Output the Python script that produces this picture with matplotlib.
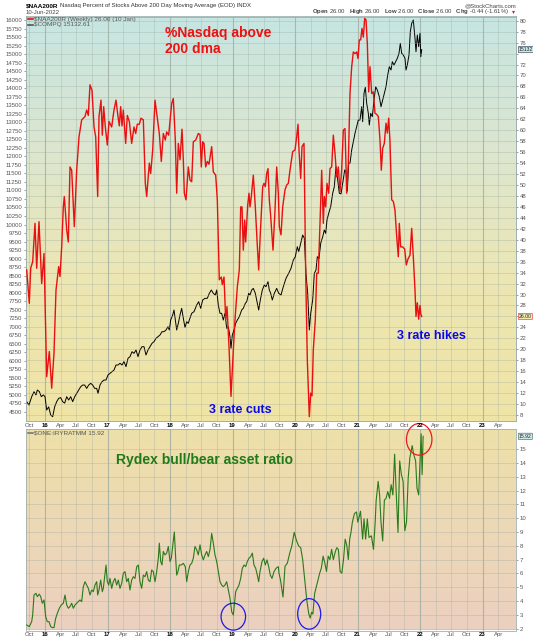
import numpy as np
import matplotlib
matplotlib.use('Agg')
import matplotlib.pyplot as plt
from matplotlib.patches import Ellipse
from matplotlib.lines import Line2D
from matplotlib.colors import LinearSegmentedColormap
import matplotlib.transforms as mtrans

plt.rcParams['mathtext.fontset'] = 'custom'
plt.rcParams['mathtext.rm'] = 'Liberation Sans'
plt.rcParams['mathtext.bf'] = 'Liberation Sans:bold'

# ---------------- data (decimal years) ----------------
naa_dates = [2015.707, 2015.749, 2015.771, 2015.803, 2015.84, 2015.867, 2015.904, 2015.947, 2015.984,
             2016.027, 2016.069, 2016.107, 2016.144, 2016.176, 2016.219, 2016.24, 2016.267, 2016.293,
             2016.309, 2016.347, 2016.373, 2016.40, 2016.427, 2016.469, 2016.507, 2016.544, 2016.587,
             2016.64, 2016.667, 2016.693, 2016.72, 2016.752, 2016.784, 2016.811, 2016.843, 2016.864,
             2016.896, 2016.917, 2016.939, 2016.965, 2016.997, 2017.024, 2017.067, 2017.104, 2017.136,
             2017.168, 2017.189, 2017.211, 2017.232, 2017.253, 2017.291, 2017.317, 2017.349, 2017.387,
             2017.424, 2017.451, 2017.477, 2017.509, 2017.536, 2017.573, 2017.605, 2017.627, 2017.669,
             2017.691, 2017.723, 2017.76, 2017.787, 2017.829, 2017.861, 2017.893, 2017.925, 2017.947,
             2017.979, 2018.0, 2018.027, 2018.053, 2018.085, 2018.107, 2018.133, 2018.16, 2018.192,
             2018.213, 2018.229, 2018.256, 2018.293, 2018.32, 2018.347, 2018.373, 2018.411, 2018.453,
             2018.48, 2018.501, 2018.523, 2018.544, 2018.571, 2018.597, 2018.624, 2018.667, 2018.693,
             2018.731, 2018.757, 2018.789, 2018.821, 2018.837, 2018.864, 2018.891, 2018.912, 2018.944,
             2018.976, 2019.013, 2019.04, 2019.077, 2019.109, 2019.131, 2019.152, 2019.173, 2019.195,
             2019.211, 2019.243, 2019.264, 2019.28, 2019.301, 2019.333, 2019.365, 2019.392, 2019.419,
             2019.445, 2019.483, 2019.504, 2019.525, 2019.547, 2019.568, 2019.589, 2019.611, 2019.648,
             2019.68, 2019.707, 2019.733, 2019.749, 2019.776, 2019.803, 2019.84, 2019.867, 2019.893,
             2019.92, 2019.963, 2020.0, 2020.027, 2020.048, 2020.064, 2020.091, 2020.112, 2020.144,
             2020.171, 2020.197, 2020.229, 2020.251, 2020.272, 2020.293, 2020.325, 2020.347, 2020.373,
             2020.40, 2020.427, 2020.453, 2020.469, 2020.491, 2020.512, 2020.539, 2020.56, 2020.587,
             2020.613, 2020.64, 2020.667, 2020.693, 2020.72, 2020.747, 2020.773, 2020.80, 2020.827,
             2020.853, 2020.88, 2020.907, 2020.933, 2020.96, 2020.987, 2021.008, 2021.029, 2021.051,
             2021.072, 2021.093, 2021.115, 2021.136, 2021.157, 2021.179, 2021.20, 2021.227, 2021.253,
             2021.28, 2021.307, 2021.333, 2021.36, 2021.381, 2021.403, 2021.429, 2021.456, 2021.477,
             2021.499, 2021.52, 2021.547, 2021.573, 2021.60, 2021.627, 2021.653, 2021.669, 2021.691,
             2021.723, 2021.755, 2021.781, 2021.808, 2021.84, 2021.867, 2021.893, 2021.92, 2021.936,
             2021.957, 2021.979, 2022.0, 2022.013, 2022.027]
naa_values = [34.5, 28.4, 34.8, 36.0, 43.0, 34.8, 43.3, 32.0, 37.5,
              15.0, 19.6, 12.9, 19.3, 30.8, 35.1, 33.3, 38.7, 46.0,
              47.9, 41.8, 39.6, 53.3, 52.7, 42.4, 52.7, 58.8, 61.9,
              62.5, 63.7, 62.7, 68.3, 67.3, 60.6, 58.8, 47.9, 62.5,
              65.5, 59.1, 64.3, 60.6, 57.3, 61.6, 60.6, 63.7, 65.5,
              62.5, 60.8, 64.3, 60.8, 63.7, 57.6, 62.7, 61.6, 57.6,
              60.6, 59.4, 61.1, 61.1, 62.2, 61.9, 50.3, 47.9, 54.0,
              52.1, 56.4, 65.5, 63.1, 59.4, 54.3, 59.4, 58.2, 59.7,
              59.1, 61.6, 64.9, 65.8, 58.2, 48.5, 57.6, 54.6, 60.2,
              54.6, 48.5, 47.3, 53.3, 50.9, 50.6, 57.9, 58.2, 59.4,
              59.2, 53.3, 57.9, 57.6, 53.3, 54.3, 53.8, 57.0, 52.4,
              51.8, 47.3, 32.7, 33.2, 31.8, 33.2, 25.4, 27.8, 20.5,
              11.4, 19.9, 25.4, 31.4, 34.5, 46.0, 46.0, 38.1, 43.6,
              39.6, 46.3, 48.5, 46.0, 47.9, 51.8, 46.0, 40.0, 34.5,
              41.2, 49.7, 50.3, 49.7, 52.1, 53.0, 47.3, 44.3, 38.1,
              45.4, 53.3, 48.5, 42.4, 40.9, 46.0, 49.1, 50.0, 50.3,
              52.7, 56.1, 56.4, 58.8, 61.1, 56.4, 51.2, 57.0, 57.6,
              33.9, 18.1, 7.7, 12.0, 11.5, 19.9, 25.4, 33.9, 33.9,
              43.0, 52.7, 43.0, 47.9, 46.0, 50.3, 48.5, 53.0, 53.3,
              59.1, 55.8, 51.5, 53.3, 48.8, 52.8, 60.0, 60.3, 48.5,
              54.0, 66.7, 71.6, 74.3, 74.0, 74.3, 73.1, 76.5, 76.5,
              78.6, 77.0, 80.4, 80.2, 75.9, 67.0, 71.6, 66.7, 67.0,
              63.1, 62.9, 62.5, 58.2, 52.7, 56.7, 57.6, 61.3, 59.5,
              62.2, 57.9, 47.3, 47.0, 45.4, 40.6, 36.9, 43.0, 38.7,
              38.7, 38.3, 35.4, 36.5, 37.2, 42.1, 36.9, 30.8, 26.0,
              28.5, 25.5, 28.0, 26.4, 26.0]

compq_dates = [2015.707, 2015.744, 2015.787, 2015.824, 2015.856, 2015.877, 2015.909, 2015.941, 2015.973,
               2016.0, 2016.027, 2016.059, 2016.091, 2016.123, 2016.155, 2016.187, 2016.219, 2016.251,
               2016.283, 2016.315, 2016.347, 2016.379, 2016.411, 2016.443, 2016.475, 2016.507, 2016.539,
               2016.571, 2016.603, 2016.635, 2016.667, 2016.699, 2016.731, 2016.763, 2016.795, 2016.827,
               2016.848, 2016.88, 2016.912, 2016.944, 2016.976, 2017.008, 2017.04, 2017.072, 2017.104,
               2017.136, 2017.168, 2017.20, 2017.232, 2017.264, 2017.296, 2017.328, 2017.36, 2017.392,
               2017.424, 2017.456, 2017.488, 2017.52, 2017.552, 2017.584, 2017.616, 2017.648, 2017.68,
               2017.712, 2017.744, 2017.776, 2017.808, 2017.84, 2017.872, 2017.904, 2017.936, 2017.968,
               2017.989, 2018.011, 2018.043, 2018.064, 2018.085, 2018.107, 2018.133, 2018.16, 2018.187,
               2018.213, 2018.24, 2018.267, 2018.293, 2018.309, 2018.347, 2018.384, 2018.427, 2018.459,
               2018.491, 2018.523, 2018.56, 2018.597, 2018.629, 2018.661, 2018.693, 2018.725, 2018.747,
               2018.773, 2018.80, 2018.827, 2018.853, 2018.88, 2018.907, 2018.933, 2018.96, 2018.976,
               2018.997, 2019.024, 2019.051, 2019.077, 2019.109, 2019.147, 2019.173, 2019.205, 2019.227,
               2019.259, 2019.28, 2019.307, 2019.333, 2019.365, 2019.392, 2019.419, 2019.445, 2019.477,
               2019.509, 2019.536, 2019.568, 2019.589, 2019.611, 2019.637, 2019.669, 2019.707, 2019.739,
               2019.776, 2019.813, 2019.856, 2019.899, 2019.936, 2019.973, 2020.005, 2020.037, 2020.059,
               2020.091, 2020.123, 2020.149, 2020.176, 2020.203, 2020.229, 2020.251, 2020.283, 2020.309,
               2020.336, 2020.357, 2020.384, 2020.411, 2020.443, 2020.469, 2020.491, 2020.512, 2020.539,
               2020.571, 2020.603, 2020.629, 2020.656, 2020.677, 2020.709, 2020.736, 2020.763, 2020.795,
               2020.816, 2020.837, 2020.859, 2020.88, 2020.907, 2020.933, 2020.96, 2020.987, 2021.013,
               2021.04, 2021.067, 2021.083, 2021.104, 2021.125, 2021.147, 2021.173, 2021.189, 2021.211,
               2021.237, 2021.264, 2021.291, 2021.317, 2021.349, 2021.376, 2021.403, 2021.429, 2021.456,
               2021.483, 2021.509, 2021.536, 2021.557, 2021.584, 2021.611, 2021.637, 2021.664, 2021.685,
               2021.707, 2021.733, 2021.76, 2021.776, 2021.797, 2021.824, 2021.845, 2021.867, 2021.893,
               2021.92, 2021.936, 2021.957, 2021.979, 2022.0, 2022.013, 2022.027]
compq_values = [4801, 4704, 4948, 5094, 5000, 5143, 5100, 4948, 5000,
                4948, 4557, 4650, 4410, 4361, 4654, 4802, 4900, 4920,
                4802, 4760, 4948, 4850, 4948, 4802, 4948, 5046, 5143,
                5241, 5290, 5290, 5192, 5290, 5340, 5290, 5192, 5192,
                5046, 5290, 5388, 5437, 5437, 5584, 5633, 5681, 5730,
                5878, 5878, 5927, 5878, 5976, 5830, 6074, 6123, 6268,
                6220, 6318, 6123, 6318, 6415, 6415, 6171, 6318, 6415,
                6514, 6563, 6661, 6710, 6758, 6855, 6855, 6905, 7002,
                6905, 7198, 7345, 7491, 7198, 6905, 7100, 7345, 7541,
                7250, 6980, 7148, 7100, 7198, 7394, 7443, 7638, 7735,
                7541, 7785, 7834, 7834, 7981, 8078, 7981, 7932, 8078,
                7638, 7394, 7394, 7198, 7394, 6954, 7002, 6709, 6368,
                6758, 6905, 7100, 7198, 7295, 7492, 7541, 7687, 7735,
                7981, 7932, 8078, 8127, 7981, 7735, 7491, 7785, 8078,
                8225, 8176, 8322, 8078, 7981, 7785, 7981, 8127, 7981,
                7932, 8176, 8421, 8568, 8714, 8958, 9055, 9349, 9200,
                9447, 9692, 9600, 8568, 7981, 6905, 7394, 7785, 8568,
                8665, 9055, 9000, 9447, 9642, 9839, 9740, 10132, 10328,
                10524, 10915, 11109, 11696, 11400, 10915, 10900, 11207, 11600,
                11550, 10980, 11795, 11800, 12186, 12430, 12676, 12870, 13066,
                13066, 13456, 13016, 13849, 14025, 13556, 13263, 12919, 13263,
                13163, 13653, 14043, 13946, 13750, 13456, 13653, 13849, 14043,
                14386, 14630, 14533, 14777, 14680, 14777, 14875, 15023, 15316,
                15023, 14973, 14875, 14533, 14680, 14973, 15657, 15903, 16000,
                15463, 15070, 15560, 15217, 15610, 14923, 15132.61]

rydex_dates = [2015.707, 2015.749, 2015.787, 2015.803, 2015.824, 2015.856, 2015.877, 2015.909, 2015.931,
               2015.957, 2015.984, 2016.011, 2016.037, 2016.064, 2016.091, 2016.117, 2016.144, 2016.171,
               2016.197, 2016.229, 2016.261, 2016.293, 2016.32, 2016.347, 2016.373, 2016.40, 2016.427,
               2016.453, 2016.48, 2016.507, 2016.533, 2016.56, 2016.587, 2016.613, 2016.64, 2016.667,
               2016.693, 2016.72, 2016.747, 2016.773, 2016.80, 2016.827, 2016.843, 2016.864, 2016.891,
               2016.917, 2016.933, 2016.955, 2016.976, 2016.997, 2017.019, 2017.04, 2017.067, 2017.093,
               2017.12, 2017.147, 2017.173, 2017.20, 2017.227, 2017.253, 2017.28, 2017.307, 2017.333,
               2017.36, 2017.387, 2017.413, 2017.44, 2017.467, 2017.493, 2017.52, 2017.547, 2017.573,
               2017.60, 2017.627, 2017.653, 2017.68, 2017.707, 2017.733, 2017.76, 2017.787, 2017.813,
               2017.829, 2017.851, 2017.872, 2017.893, 2017.92, 2017.947, 2017.973, 2018.0, 2018.021,
               2018.043, 2018.069, 2018.091, 2018.107, 2018.128, 2018.149, 2018.181, 2018.213, 2018.245,
               2018.267, 2018.293, 2018.32, 2018.347, 2018.373, 2018.40, 2018.427, 2018.453, 2018.48,
               2018.507, 2018.533, 2018.56, 2018.587, 2018.613, 2018.64, 2018.667, 2018.693, 2018.72,
               2018.747, 2018.773, 2018.80, 2018.827, 2018.853, 2018.88, 2018.907, 2018.933, 2018.96,
               2018.987, 2019.013, 2019.029, 2019.051, 2019.077, 2019.104, 2019.131, 2019.157, 2019.184,
               2019.211, 2019.237, 2019.264, 2019.291, 2019.317, 2019.344, 2019.371, 2019.397, 2019.419,
               2019.44, 2019.472, 2019.499, 2019.525, 2019.552, 2019.579, 2019.605, 2019.632, 2019.664,
               2019.696, 2019.733, 2019.744, 2019.768, 2019.808, 2019.84, 2019.878, 2019.917, 2019.949,
               2019.987, 2020.026, 2020.058, 2020.091, 2020.123, 2020.157, 2020.189, 2020.221, 2020.243,
               2020.266, 2020.286, 2020.314, 2020.341, 2020.368, 2020.395, 2020.422, 2020.45, 2020.477,
               2020.504, 2020.531, 2020.558, 2020.586, 2020.613, 2020.64, 2020.667, 2020.694, 2020.722,
               2020.749, 2020.776, 2020.803, 2020.83, 2020.853, 2020.875, 2020.896, 2020.918, 2020.95,
               2020.984, 2021.005, 2021.027, 2021.048, 2021.082, 2021.104, 2021.13, 2021.157, 2021.184,
               2021.222, 2021.256, 2021.283, 2021.299, 2021.331, 2021.354, 2021.376, 2021.403, 2021.43,
               2021.456, 2021.485, 2021.512, 2021.539, 2021.566, 2021.594, 2021.621, 2021.648, 2021.675,
               2021.702, 2021.73, 2021.757, 2021.784, 2021.811, 2021.838, 2021.854, 2021.875, 2021.898,
               2021.93, 2021.952, 2021.979, 2022.002, 2022.018, 2022.034, 2022.05]
rydex_values = [2.27, 2.15, 2.51, 3.0, 4.44, 4.56, 4.32, 4.5, 4.32,
                3.84, 4.08, 2.87, 2.51, 2.51, 2.15, 2.08, 2.08, 2.75,
                3.11, 3.48, 3.72, 3.84, 4.44, 3.72, 3.48, 3.6, 3.84,
                3.48, 3.72, 3.84, 3.96, 4.08, 3.96, 5.04, 5.40, 5.16,
                4.92, 4.44, 4.80, 4.68, 5.16, 5.40, 4.44, 4.80, 5.52,
                4.68, 4.92, 5.76, 6.6, 5.40, 5.16, 5.64, 4.92, 5.40,
                5.64, 5.16, 5.52, 4.92, 5.28, 6.01, 6.13, 5.40, 5.64,
                4.80, 5.52, 5.76, 5.64, 6.49, 6.61, 5.40, 4.92, 5.88,
                5.76, 6.13, 5.52, 5.40, 6.25, 6.13, 5.40, 6.13, 7.1,
                8.19, 6.86, 6.61, 7.59, 7.34, 7.47, 7.95, 6.86, 7.1,
                7.95, 9.0, 7.1, 5.88, 6.13, 6.61, 6.61, 6.73, 6.49,
                5.40, 6.13, 6.61, 6.73, 7.1, 7.95, 7.71, 7.34, 8.07,
                7.34, 6.98, 7.34, 7.59, 7.22, 7.71, 8.90, 8.19, 7.34,
                6.86, 6.13, 5.40, 5.16, 5.04, 5.16, 5.40, 4.80, 4.2,
                3.23, 2.99, 3.72, 4.68, 4.92, 5.16, 5.64, 6.37, 6.61,
                6.49, 6.86, 7.1, 7.22, 7.47, 6.61, 6.37, 5.88, 5.40,
                6.13, 6.86, 7.1, 6.61, 6.98, 6.49, 5.88, 5.64, 6.13,
                6.37, 6.49, 6.02, 5.52, 4.29, 6.51, 6.75, 7.49, 7.99,
                8.97, 8.35, 7.99, 7.86, 7.0, 5.52, 4.05, 3.06, 2.77,
                3.19, 3.06, 4.54, 5.03, 5.52, 6.02, 6.39, 7.25, 6.75,
                6.14, 7.25, 7.0, 7.74, 7.0, 7.49, 7.86, 7.74, 6.14,
                6.02, 7.0, 8.48, 7.99, 7.0, 8.48, 8.97, 9.71, 10.32,
                10.45, 9.71, 10.08, 10.5, 8.48, 9.95, 8.48, 9.95, 8.6,
                8.72, 7.74, 9.71, 11.3, 12.66, 11.68, 9.71, 8.35, 11.3,
                11.43, 11.92, 11.43, 12.42, 11.68, 14.63, 11.68, 8.97, 14.14,
                13.15, 12.66, 9.09, 9.71, 12.9, 14.38, 14.75, 15.25, 14.63,
                14.14, 12.17, 11.68, 14.38, 16.1, 13.15, 15.92]

month_names = {3: 'Apr', 6: 'Jul', 9: 'Oct'}
tick_start, tick_end = 2015.75, 2023.25

# ---------------- figure ----------------
W, H = 533, 640
fig = plt.figure(figsize=(W / 100, H / 100), dpi=100)
fig.patch.set_facecolor('white')
FONT = 'Liberation Sans'

def px_axes(left, top, right, bottom):
    return fig.add_axes([left / W, 1 - bottom / H, (right - left) / W, (bottom - top) / H])

ax = px_axes(26, 16.5, 516, 421)
ax2 = ax.twinx()
axb = px_axes(26, 429, 516, 630.5)

def gradient(a, colors):
    cmap = LinearSegmentedColormap.from_list('g', colors)
    grad = np.linspace(0, 1, 256).reshape(-1, 1)
    a.imshow(grad, aspect='auto', cmap=cmap, extent=[0, 1, 0, 1], transform=a.transAxes,
             zorder=-10, origin='upper')

gradient(ax, ['#c6e5e2', '#dce6cf', '#ede6b2', '#f0e4a6'])
gradient(axb, ['#eee0a8', '#ecd8b6', '#ecd0c0'])

xmin, xmax = 2015.696, 2023.536
for a in (ax, ax2, axb):
    a.set_xlim(xmin, xmax)

ax.set_ylim(4235, 16103)
ax2.set_ylim(6.91, 80.77)
axb.set_ylim(1.87, 16.45)

# x ticks
qticks = np.arange(tick_start, tick_end + 0.01, 0.25)
labels, is_year = [], []
for t in qticks:
    yr = int(np.floor(t + 1e-6))
    m = int(round((t - yr) * 12))
    if m == 0:
        labels.append(f'{yr % 100:02d}')
        is_year.append(True)
    else:
        labels.append(month_names[m])
        is_year.append(False)

grid_c = '#9aa89e'
for a in (ax, axb):
    for t, y in zip(qticks, is_year):
        a.axvline(t, color=grid_c, lw=0.8 if y else 0.5, alpha=0.75 if y else 0.45, zorder=-5)

for a in (ax, axb):
    a.set_xticks(qticks)
    a.set_xticklabels(labels, fontsize=4.3, fontname=FONT)
    a.tick_params(axis='x', length=0, pad=1.2, colors='#555555')
    for lab, y in zip(a.get_xticklabels(), is_year):
        if y:
            lab.set_fontweight('bold')
            lab.set_color('black')

# top left axis ticks
lt = list(range(4500, 16001, 250))
ax.set_yticks(lt)
ax.set_yticklabels([str(v) for v in lt], fontsize=4.3, fontname=FONT)
ax.tick_params(axis='y', length=1.5, width=0.4, pad=1.2, colors='#555555')

# top right axis ticks + horizontal grid (labels hidden under value boxes)
rt = list(range(8, 81, 2))
hidden_right = {26, 74}
ax2.set_yticks(rt)
ax2.set_yticklabels(['' if v in hidden_right else str(v) for v in rt], fontsize=4.3, fontname=FONT)
ax2.tick_params(axis='y', length=1.5, width=0.4, pad=1.2, colors='#555555')
for v in rt:
    ax2.axhline(v, color=grid_c, lw=0.5, alpha=0.45, zorder=-5)

bt = list(range(2, 16, 1))
axb.yaxis.tick_right()
axb.set_yticks(bt)
axb.set_yticklabels([str(v) for v in bt], fontsize=4.3, fontname=FONT)
axb.tick_params(axis='y', length=1.5, width=0.4, pad=1.2, colors='#555555')
for v in bt:
    axb.axhline(v, color=grid_c, lw=0.5, alpha=0.45, zorder=-5)

for a in (ax, ax2, axb):
    for s in a.spines.values():
        s.set_color('#9fb0b0')
        s.set_linewidth(0.6)

ax.set_zorder(1)
ax2.set_zorder(2)
ax2.patch.set_visible(False)

# ---------------- series ----------------
ax.plot(compq_dates, compq_values, color='black', lw=0.7, zorder=3)
ax2.plot(naa_dates, naa_values, color='#e81010', lw=1.0, zorder=4)
axb.plot(rydex_dates, rydex_values, color='#2a7a1a', lw=0.8, zorder=3)

# ---------------- legends ----------------
def legend_entry(a, y, color, text):
    a.add_line(Line2D([0.004, 0.014], [y, y], transform=a.transAxes, color=color, lw=1.2, clip_on=False))
    a.text(0.017, y, text, transform=a.transAxes, fontsize=4.6, fontname=FONT, color='#555555',
           va='center', ha='left')

legend_entry(ax2, 1 - 3.0 / 404.5, '#e81010', '$NAA200R (Weekly) 26.00 (10 Jan)')
legend_entry(ax2, 1 - 8.5 / 404.5, '#555555', '$COMPQ 15132.61')
legend_entry(axb, 1 - 4.0 / 201.5, '#777777', '$ONE:IRYRATMM 15.92')

# value boxes on right axis
def value_box(a, val, text, edge, face):
    tr = mtrans.blended_transform_factory(a.transAxes, a.transData)
    a.text(1.006, val, text, transform=tr, fontsize=3.7, fontname=FONT, color='#222222',
           va='center', ha='left', clip_on=False, zorder=10,
           bbox=dict(boxstyle='round,pad=0.12', fc=face, ec=edge, lw=0.5))

value_box(ax, compq_values[-1], '15132', '#445566', '#cfe8ea')
value_box(ax2, naa_values[-1], '26.00', '#e05050', '#f6eab0')
value_box(axb, rydex_values[-1], '15.92', '#557766', '#cfe8ea')

# ---------------- header ----------------
renderer = fig.canvas.get_renderer()
t1 = fig.text(26 / W, 1 - 5.5 / H, '$NAA200R', fontsize=4.6, fontweight='bold', fontname=FONT,
              va='center', ha='left')
bb = t1.get_window_extent(renderer=renderer)
fig.text((bb.x1 + 2) / W, 1 - 5.5 / H, 'Nasdaq Percent of Stocks Above 200 Day Moving Average (EOD) INDX',
         fontsize=4.3, fontname=FONT, va='center', ha='left', color='#333333')
fig.text(26 / W, 1 - 12 / H, '10-Jun-2022', fontsize=4.3, fontname=FONT, va='center', ha='left',
         color='#444444')
fig.text(516 / W, 1 - 5.5 / H, '@StockCharts.com', fontsize=4.3, fontname=FONT, va='center',
         ha='right', color='#444444')
fig.text(509 / W, 1 - 12 / H,
         r'$\bf{Open}$ 26.00   $\bf{High}$ 26.00   $\bf{Low}$ 26.00   $\bf{Close}$ 26.00   '
         r'$\bf{Chg}$ -0.44 (-1.61%)',
         fontsize=4.3, fontname=FONT, va='center', ha='right', color='#444444')
fig.text(515 / W, 1 - 12 / H, '\u25be', fontsize=4.3, fontname='DejaVu Sans', va='center', ha='right',
         color='#cc2222')

# ---------------- annotations ----------------
ax2.text(0.2837, 0.9486, '%Nasdaq above', transform=ax2.transAxes, fontsize=10, fontweight='bold',
         fontname=FONT, color='#ee1111', va='baseline', ha='left', zorder=6)
ax2.text(0.2837, 0.9105, '200 dma', transform=ax2.transAxes, fontsize=10, fontweight='bold',
         fontname=FONT, color='#ee1111', va='baseline', ha='left', zorder=6)
ax2.text(0.374, 0.0203, '3 rate cuts', transform=ax2.transAxes, fontsize=9, fontweight='bold',
         fontname=FONT, color='#0a0ae6', va='baseline', ha='left', zorder=6)
ax2.text(0.7565, 0.2032, '3 rate hikes', transform=ax2.transAxes, fontsize=9, fontweight='bold',
         fontname=FONT, color='#0a0ae6', va='baseline', ha='left', zorder=6)
axb.text(0.1843, 0.8248, 'Rydex bull/bear asset ratio', transform=axb.transAxes, fontsize=10,
         fontweight='bold', fontname=FONT, color='#1f7a1a', va='baseline', ha='left', zorder=6)

# circles
axb.add_patch(Ellipse((2019.013, 2.87), 0.392, 1.95, fill=False, ec='#1a1aee', lw=0.9, zorder=7,
                      clip_on=False))
axb.add_patch(Ellipse((2020.227, 3.07), 0.368, 2.21, fill=False, ec='#1a1aee', lw=0.9, zorder=7,
                      clip_on=False))
axb.add_patch(Ellipse((2021.987, 15.70), 0.408, 2.29, fill=False, ec='#ee1a1a', lw=0.9, zorder=7,
                      clip_on=False))

fig.savefig('out.png', dpi=100, facecolor='white')
